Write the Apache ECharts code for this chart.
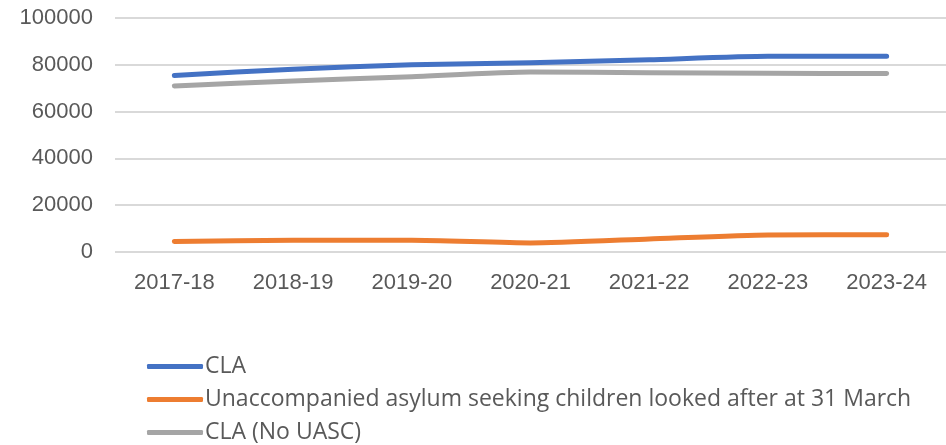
<!DOCTYPE html>
<html><head><meta charset="utf-8">
<script src="https://cdn.jsdelivr.net/npm/echarts@6/dist/echarts.min.js"></script>
<style>html,body{margin:0;padding:0;background:#fff}#c{width:946px;height:445px}</style>
</head><body><div id="c"></div>
<script>
const categories = ['2017-18','2018-19','2019-20','2020-21','2021-22','2022-23','2023-24'];
const cla = [75420, 78150, 80000, 80850, 82170, 83630, 83630];
const uasc = [4480, 5070, 5060, 3890, 5570, 7290, 7380];
const claNoUasc = [70940, 73080, 74940, 76960, 76600, 76340, 76250];
const yTicks = [0, 20000, 40000, 60000, 80000, 100000];
const names = ['CLA', 'Unaccompanied asylum seeking children looked after at 31 March', 'CLA (No UASC)'];
const colors = ['#4472C4', '#ED7D31', '#A5A5A5'];
const axisFont = '"Liberation Sans", Arial, sans-serif';
const legendFont = '"Open Sans", sans-serif';
const chart = echarts.init(document.getElementById('c'));
const mk = (name, data, color) => ({
  name, type: 'line', data, symbol: 'none', smooth: 0.2,
  lineStyle: { color, width: 5, cap: 'round', join: 'round' },
  itemStyle: { color }
});
chart.setOption({
  animation: false,
  color: colors,
  grid: { left: 115, right: -13, top: 18, height: 234, containLabel: false },
  xAxis: {
    type: 'category', data: categories, boundaryGap: true,
    axisLine: { show: false }, axisTick: { show: false },
    axisLabel: { color: '#595959', fontSize: 22, fontFamily: axisFont, margin: 20 }
  },
  yAxis: {
    type: 'value', min: yTicks[0], max: yTicks[yTicks.length - 1], interval: 20000,
    axisLine: { show: false }, axisTick: { show: false },
    axisLabel: { color: '#595959', fontSize: 22, fontFamily: axisFont, margin: 22, formatter: v => String(v) },
    splitLine: { lineStyle: { color: '#d9d9d9', width: 2 } }
  },
  legend: {
    orient: 'vertical', left: 147, top: 355, height: 90, padding: 0,
    icon: 'roundRect', itemWidth: 56, itemHeight: 5, itemGap: 10,
    textStyle: { color: '#595959', fontSize: 23, lineHeight: 23, fontFamily: legendFont, padding: [0, 0, 0, -3] },
    data: names
  },
  series: [mk(names[0], cla, colors[0]), mk(names[1], uasc, colors[1]), mk(names[2], claNoUasc, colors[2])]
});
</script></body></html>
